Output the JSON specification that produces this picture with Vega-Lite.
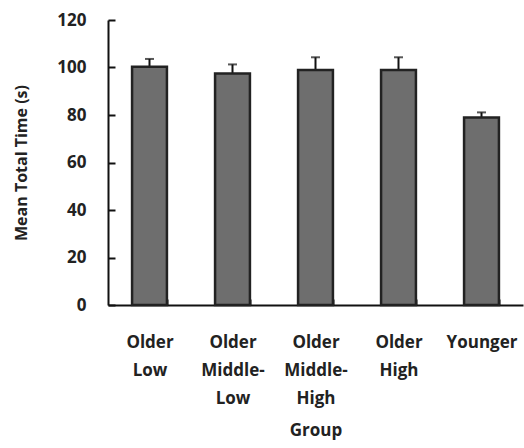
{
  "$schema": "https://vega.github.io/schema/vega-lite/v6.json",
  "width": 415,
  "height": 285,
  "autosize": "none",
  "padding": {"left": 108, "top": 20, "right": 1, "bottom": 143},
  "background": "white",
  "config": {
    "view": {"stroke": null},
    "font": "Open Sans",
    "axis": {
      "labelFont": "Open Sans", "labelFontWeight": "bold", "labelFontSize": 17, "labelColor": "#222222",
      "titleFont": "Open Sans", "titleFontWeight": "bold", "titleFontSize": 16, "titleColor": "#222222",
      "domainColor": "#111111", "domainWidth": 2, "tickColor": "#111111", "tickWidth": 2, "grid": false
    }
  },
  "data": {
    "values": [
      {"group": "Older Low", "mean": 100.3, "upper": 103.6},
      {"group": "Older Middle-Low", "mean": 97.5, "upper": 101.3},
      {"group": "Older Middle-High", "mean": 98.9, "upper": 104.3},
      {"group": "Older High", "mean": 98.9, "upper": 104.3},
      {"group": "Younger", "mean": 79.0, "upper": 81.1}
    ]
  },
  "encoding": {
    "x": {
      "field": "group", "type": "nominal", "sort": null,
      "scale": {"paddingInner": 0.58, "paddingOuter": 0.29},
      "axis": {
        "title": "Group", "titleFontSize": 17, "labelAngle": 0, "tickBand": "extent", "tickSize": -6,
        "labelExpr": "split(replace(replace(datum.label, ' ', '|'), '-', '-|'), '|')",
        "labelLineHeight": 28, "labelPadding": 35, "labelBaseline": "top", "titlePadding": 16
      }
    }
  },
  "layer": [
    {
      "mark": {"type": "rule", "color": "#111111", "strokeWidth": 2},
      "encoding": {
        "y": {"field": "mean", "type": "quantitative"},
        "y2": {"field": "upper"}
      }
    },
    {
      "mark": {"type": "tick", "orient": "horizontal", "color": "#111111", "size": 9, "thickness": 2},
      "encoding": {
        "y": {"field": "upper", "type": "quantitative"}
      }
    },
    {
      "mark": {"type": "bar", "fill": "#6e6e6e", "stroke": "#222222", "strokeWidth": 2.5},
      "encoding": {
        "y": {
          "field": "mean", "type": "quantitative",
          "scale": {"domain": [0, 120]},
          "axis": {"title": "Mean Total Time (s)", "values": [0, 20, 40, 60, 80, 100, 120], "tickSize": -7, "labelPadding": 29, "titlePadding": 27}
        }
      }
    }
  ]
}
